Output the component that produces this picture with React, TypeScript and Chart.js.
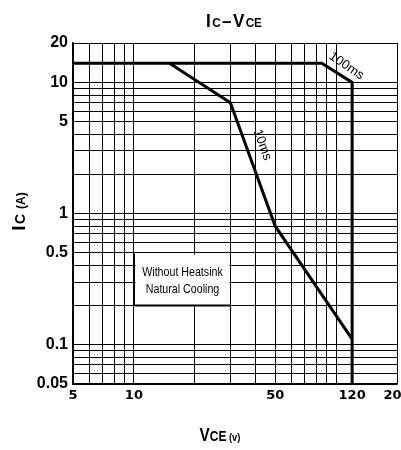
import React, { useEffect, useRef } from "react";
import { Chart, registerables } from "chart.js";

Chart.register(...registerables);

// ---- axis ticks ----
const xTicks = [5, 6, 7, 8, 9, 10, 20, 30, 40, 50, 60, 70, 80, 90, 100, 120, 200];
const xLabels = [5, 10, 50, 120, 200];
const yTicks = [
  0.05, 0.06, 0.07, 0.08, 0.09, 0.1, 0.2, 0.3, 0.4, 0.5, 0.6, 0.7, 0.8, 0.9,
  1, 2, 3, 4, 5, 6, 7, 8, 9, 10, 20,
];
const yLabels = [0.05, 0.1, 0.5, 1, 5, 10, 20];

// ---- series (VCE in volts, IC in amps) ----
const curve100msV = [5, 85, 120, 120];
const curve100msI = [14, 14, 10, 0.05];
const curve10msV = [15, 30, 50, 120];
const curve10msI = [14, 7, 0.8, 0.11];

// ---- annotations ----
const noteLines = ["Without Heatsink", "Natural Cooling"];
const noteBoxV = [10, 30];
const noteBoxI = [0.5, 0.2];
const label100ms = "100ms";
const label10ms = "10ms";

const SANS = "'Liberation Sans', Arial, sans-serif";

type Seg = { text: string; font: string };

function drawSegs(
  ctx: CanvasRenderingContext2D,
  segs: Seg[],
  x: number,
  y: number,
  rot = 0,
  sx = 1,
  gap = 0
) {
  ctx.save();
  ctx.translate(x, y);
  ctx.rotate(rot);
  ctx.scale(sx, 1);
  ctx.textAlign = "left";
  ctx.textBaseline = "alphabetic";
  ctx.fillStyle = "#000";
  const widths = segs.map((s) => {
    ctx.font = s.font;
    return ctx.measureText(s.text).width;
  });
  const total = widths.reduce((a, b) => a + b, 0) + gap * (segs.length - 1);
  let cx = -total / 2;
  segs.forEach((s, i) => {
    ctx.font = s.font;
    ctx.fillText(s.text, cx, 0);
    cx += widths[i] + gap;
  });
  ctx.restore();
}

const decorPlugin = {
  id: "decor",
  beforeDatasetsDraw(chart: any) {
    const { ctx } = chart;
    const xs = chart.scales.x;
    const ys = chart.scales.y;
    const l = Math.round(xs.getPixelForValue(noteBoxV[0])) + 0.5;
    const r = Math.round(xs.getPixelForValue(noteBoxV[1])) + 0.5;
    const t = Math.round(ys.getPixelForValue(noteBoxI[0])) + 0.5;
    const b = Math.round(ys.getPixelForValue(noteBoxI[1])) + 0.5;
    ctx.save();
    ctx.fillStyle = "#fff";
    ctx.fillRect(l + 1, t + 1, r - l - 2, b - t - 1);
    ctx.strokeStyle = "#000";
    ctx.lineWidth = 1;
    ctx.beginPath();
    ctx.moveTo(l, t);
    ctx.lineTo(l, b);
    ctx.moveTo(r, t);
    ctx.lineTo(r, b);
    ctx.stroke();
    ctx.lineWidth = 2;
    ctx.beginPath();
    ctx.moveTo(l, b);
    ctx.lineTo(r, b);
    ctx.stroke();
    const cx = (l + r) / 2;
    const cy = (t + b) / 2;
    noteLines.forEach((line, i) => {
      drawSegs(ctx, [{ text: line, font: `13px ${SANS}` }], cx, cy - 4 + i * 17, 0, 0.82);
    });
    ctx.restore();
  },
  afterDatasetsDraw(chart: any) {
    const { ctx } = chart;
    const xs = chart.scales.x;
    const ys = chart.scales.y;
    const ang = (v1: number, i1: number, v2: number, i2: number) =>
      Math.atan2(
        ys.getPixelForValue(i2) - ys.getPixelForValue(i1),
        xs.getPixelForValue(v2) - xs.getPixelForValue(v1)
      );
    // 100ms label along the segment (85,14)-(120,10)
    const a1 = ang(curve100msV[1], curve100msI[1], curve100msV[2], curve100msI[2]);
    drawSegs(
      ctx,
      [{ text: label100ms, font: `13px ${SANS}` }],
      xs.getPixelForValue(110),
      ys.getPixelForValue(13.6) + 4,
      a1 + 0.03
    );
    // 10ms label along the segment (30,7)-(50,0.8)
    const a2 = ang(curve10msV[1], curve10msI[1], curve10msV[2], curve10msI[2]);
    drawSegs(
      ctx,
      [{ text: label10ms, font: `13px ${SANS}` }],
      xs.getPixelForValue(40.6) + 2,
      ys.getPixelForValue(3.27),
      a2
    );
  },
  afterDraw(chart: any) {
    const { ctx, chartArea } = chart;
    // chart title: IC–VCE
    drawSegs(
      ctx,
      [
        { text: "I", font: `bold 19px ${SANS}` },
        { text: "C", font: `bold 13px ${SANS}` },
        { text: "–", font: `bold 19px ${SANS}` },
        { text: "V", font: `bold 19px ${SANS}` },
        { text: "CE", font: `bold 13px ${SANS}` },
      ],
      (chartArea.left + chartArea.right) / 2 - 1,
      27,
      0,
      0.9,
      1.5
    );
    // x axis title: VCE (v)
    drawSegs(
      ctx,
      [
        { text: "V", font: `bold 18px ${SANS}` },
        { text: "CE", font: `bold 14px ${SANS}` },
        { text: " (v)", font: `bold 11px ${SANS}` },
      ],
      220,
      441,
      0,
      0.85
    );
    // y axis title: IC (A)
    drawSegs(
      ctx,
      [
        { text: "I", font: `bold 19px ${SANS}` },
        { text: "C", font: `bold 14px ${SANS}` },
        { text: " (A)", font: `bold 12px ${SANS}` },
      ],
      25,
      211.5,
      -Math.PI / 2,
      1,
      1.5
    );
  },
};

export default function App() {
  const ref = useRef<HTMLCanvasElement | null>(null);

  useEffect(() => {
    document.body.style.margin = "0";
    const canvas = ref.current;
    if (!canvas) return;
    const toPts = (xs: number[], ys: number[]) => xs.map((v, i) => ({ x: v, y: ys[i] }));
    const lineStyle = {
      borderColor: "#000",
      borderWidth: 3,
      pointRadius: 0,
      showLine: true,
      fill: false,
      tension: 0,
      borderJoinStyle: "miter" as const,
      borderCapStyle: "butt" as const,
    };
    const chart = new Chart(canvas, {
      type: "scatter",
      data: {
        datasets: [
          { label: "100ms", data: toPts(curve100msV, curve100msI), ...lineStyle },
          { label: "10ms", data: toPts(curve10msV, curve10msI), ...lineStyle },
        ],
      },
      options: {
        animation: false,
        responsive: false,
        maintainAspectRatio: false,
        devicePixelRatio: 1,
        layout: { padding: { top: 43, right: 4, left: 0, bottom: 0 } },
        plugins: {
          legend: { display: false },
          tooltip: { enabled: false },
          title: { display: false },
        },
        scales: {
          x: {
            type: "logarithmic",
            min: 5,
            max: 200,
            afterBuildTicks: (s: any) => {
              s.ticks = xTicks.map((v) => ({ value: v }));
            },
            afterFit: (s: any) => {
              s.height = 66;
              s.paddingLeft = 0;
              s.paddingRight = 0;
            },
            ticks: {
              autoSkip: false,
              maxRotation: 0,
              minRotation: 0,
              padding: 4,
              color: "#000",
              font: { family: "'DejaVu Sans', sans-serif", weight: "bold", size: 13 },
              callback: (v: any) => (xLabels.includes(Number(v)) ? String(v) : ""),
            },
            grid: {
              drawTicks: false,
              lineWidth: 1,
              color: (c: any) => (c.tick && c.tick.value === 120 ? "rgba(0,0,0,0)" : "#000"),
            },
            border: { color: "#000", width: 1.5 },
          },
          y: {
            type: "logarithmic",
            min: 0.05,
            max: 20,
            afterBuildTicks: (s: any) => {
              s.ticks = yTicks.map((v) => ({ value: v }));
            },
            afterFit: (s: any) => {
              s.width = 73;
              s.paddingTop = 0;
              s.paddingBottom = 0;
            },
            ticks: {
              autoSkip: false,
              padding: 5,
              color: "#000",
              font: {
                family: "'Liberation Sans Narrow', 'Liberation Sans', Arial, sans-serif",
                weight: "bold",
                size: 16,
              },
              callback: (v: any) => (yLabels.includes(Number(v)) ? String(v) : ""),
            },
            grid: { drawTicks: false, lineWidth: 1, color: "#000" },
            border: { color: "#000", width: 1.5 },
          },
        },
      },
      plugins: [decorPlugin],
    } as any);
    return () => chart.destroy();
  }, []);

  return (
    <div style={{ width: 401, height: 450, background: "#fff" }}>
      <canvas ref={ref} width={401} height={450} style={{ display: "block" }} />
    </div>
  );
}
